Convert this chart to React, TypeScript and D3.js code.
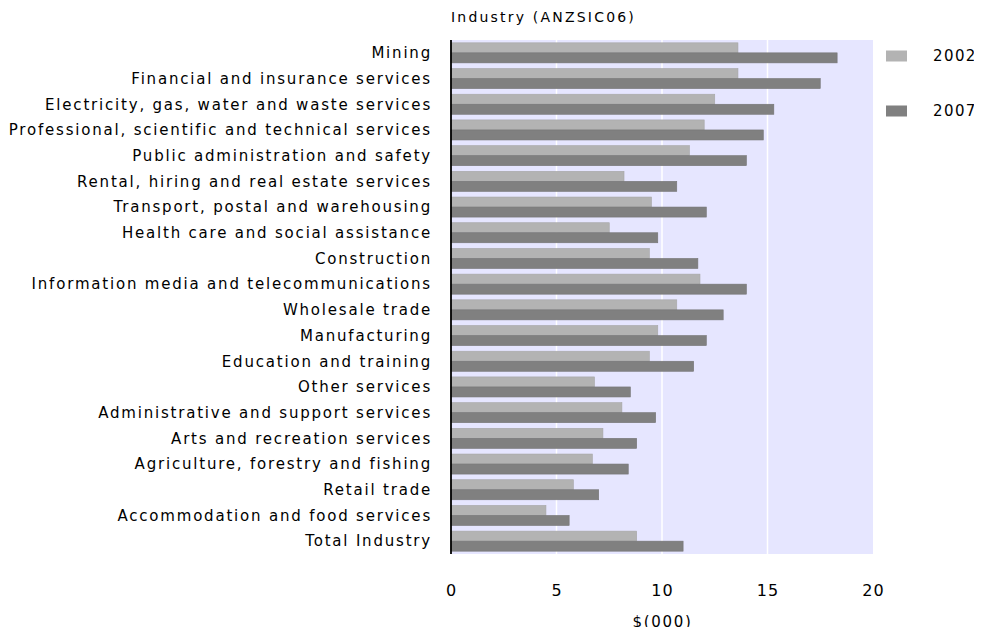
import React, { useRef, useEffect } from 'react';
import * as d3 from 'd3';

const industries = [
  'Mining',
  'Financial and insurance services',
  'Electricity, gas, water and waste services',
  'Professional, scientific and technical services',
  'Public administration and safety',
  'Rental, hiring and real estate services',
  'Transport, postal and warehousing',
  'Health care and social assistance',
  'Construction',
  'Information media and telecommunications',
  'Wholesale trade',
  'Manufacturing',
  'Education and training',
  'Other services',
  'Administrative and support services',
  'Arts and recreation services',
  'Agriculture, forestry and fishing',
  'Retail trade',
  'Accommodation and food services',
  'Total Industry',
];

const values2002 = [13.6, 13.6, 12.5, 12.0, 11.3, 8.2, 9.5, 7.5, 9.4, 11.8, 10.7, 9.8, 9.4, 6.8, 8.1, 7.2, 6.7, 5.8, 4.5, 8.8];
const values2007 = [18.3, 17.5, 15.3, 14.8, 14.0, 10.7, 12.1, 9.8, 11.7, 14.0, 12.9, 12.1, 11.5, 8.5, 9.7, 8.8, 8.4, 7.0, 5.6, 11.0];

const seriesNames = ['2002', '2007'];
const seriesColors = ['#b3b3b3', '#808080'];
const xTicks = [0, 5, 10, 15, 20];

export default function App() {
  const svgRef = useRef<SVGSVGElement | null>(null);

  useEffect(() => {
    const width = 982;
    const height = 635;
    const left = 451;
    const right = 873;
    const top = 40;
    const bottom = 554;
    const font = '"DejaVu Sans", Verdana, sans-serif';

    const svg = d3.select(svgRef.current)
      .attr('width', width)
      .attr('height', height)
      .style('display', 'block')
      .style('background', '#ffffff');
    svg.selectAll('*').remove();

    const x = d3.scaleLinear().domain([0, 20]).range([left, right]);
    const y = d3.scaleBand().domain(industries).range([top, bottom]).paddingInner(0.22).paddingOuter(0.11);

    // plot background
    svg.append('rect')
      .attr('x', left).attr('y', top)
      .attr('width', right - left).attr('height', bottom - top)
      .attr('fill', '#e6e6ff');

    // gridlines
    svg.append('g').selectAll('line')
      .data(xTicks.slice(1, -1))
      .join('line')
      .attr('x1', d => x(d)).attr('x2', d => x(d))
      .attr('y1', top).attr('y2', bottom)
      .attr('stroke', '#ffffff').attr('stroke-width', 1.5);

    const bh = y.bandwidth() / 2;
    const rows = industries.map((name, i) => ({ name, v: [values2002[i], values2007[i]] }));

    seriesNames.forEach((s, k) => {
      svg.append('g').selectAll('rect')
        .data(rows)
        .join('rect')
        .attr('x', x(0))
        .attr('y', d => (y(d.name) as number) + k * bh)
        .attr('width', d => x(d.v[k]) - x(0))
        .attr('height', bh)
        .attr('fill', seriesColors[k])
        .attr('stroke', k === 0 ? '#a6a6a6' : '#747474')
        .attr('stroke-width', 0.6);
    });

    // axis line
    svg.append('line')
      .attr('x1', left).attr('x2', left)
      .attr('y1', top).attr('y2', bottom)
      .attr('stroke', '#000').attr('stroke-width', 1.8);

    // category labels
    svg.append('g').selectAll('text')
      .data(industries)
      .join('text')
      .attr('x', 432)
      .attr('y', d => (y(d) as number) + y.bandwidth() / 2)
      .attr('dy', '0.35em')
      .attr('text-anchor', 'end')
      .attr('font-family', font)
      .attr('font-size', 15)
      .attr('letter-spacing', 1.8)
      .attr('fill', '#000')
      .text(d => d);

    // x tick labels
    svg.append('g').selectAll('text')
      .data(xTicks)
      .join('text')
      .attr('x', d => x(d) + 0.6)
      .attr('y', 590)
      .attr('dy', '0.35em')
      .attr('text-anchor', 'middle')
      .attr('font-family', font)
      .attr('font-size', 16)
      .attr('letter-spacing', 1.2)
      .attr('fill', '#000')
      .text(d => d);

    svg.append('text')
      .attr('x', x(10) + 0.6).attr('y', 622).attr('dy', '0.35em')
      .attr('text-anchor', 'middle')
      .attr('font-family', font).attr('font-size', 15)
      .attr('letter-spacing', 1.7)
      .text('$(000)');

    svg.append('text')
      .attr('x', 451).attr('y', 17).attr('dy', '0.35em')
      .attr('font-family', font).attr('font-size', 14)
      .attr('letter-spacing', 2.2)
      .text('Industry (ANZSIC06)');

    // legend
    const legend = svg.append('g').selectAll('g')
      .data(seriesNames)
      .join('g')
      .attr('transform', (d, i) => `translate(886, ${56 + i * 55})`);
    legend.append('rect')
      .attr('x', 0).attr('y', -5.5)
      .attr('width', 21).attr('height', 11)
      .attr('fill', (d, i) => seriesColors[i]);
    legend.append('text')
      .attr('x', 47).attr('y', 0).attr('dy', '0.35em')
      .attr('font-family', font).attr('font-size', 15)
      .attr('letter-spacing', 1.4)
      .text(d => d);
  }, []);

  return (
    <div style={{ margin: -8 }}>
      <svg ref={svgRef}></svg>
    </div>
  );
}
